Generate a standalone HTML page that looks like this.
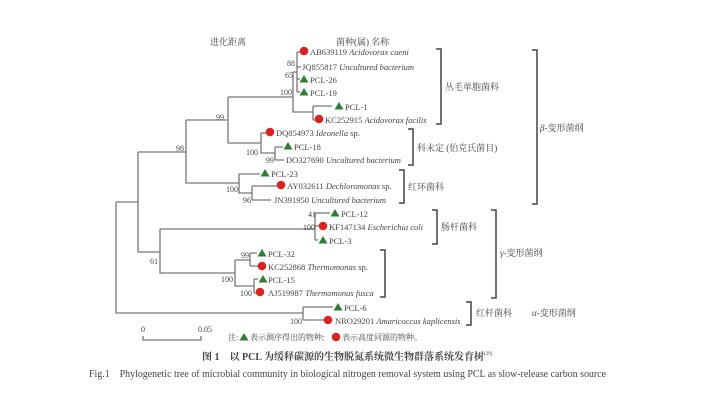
<!DOCTYPE html>
<html><head><meta charset="utf-8"><style>
html,body{margin:0;padding:0;background:#fff;}
svg{display:block;}
text{font-family:"Liberation Serif","Noto Serif CJK SC",serif;fill:#444;}
</style></head><body>
<svg width="710" height="410" viewBox="0 0 710 410" xmlns="http://www.w3.org/2000/svg">
<defs>
<g id="tri"><polygon points="0,-4 4.5,3.5 -4.5,3.5" fill="#2e7d32"/></g>
<g id="dot"><circle r="4.3" fill="#e02020"/></g>
</defs>
<g stroke="#777" stroke-width="1.3" fill="none">
<path d="M116 202 V313 H303"/>
<path d="M116 202 H138 V252 H160"/>
<path d="M138 152 H186"/>
<path d="M138 152 V202"/>
<path d="M186 120 V183 H239"/>
<path d="M186 120 H228"/>
<path d="M228 97 V143 H261"/>
<path d="M228 97 H293"/>
<path d="M293 72 V112 H313"/>
<path d="M293 72 H297 M297 52 V92 M297 52 H300 M297 67 H301 M297 79 H300 M297 92 H300"/>
<path d="M313 106 V120 M313 106 H332 M313 120 H316"/>
<path d="M261 133 V153 H275 M261 133 H266"/>
<path d="M275 147 V160 M275 147 H283 M275 160 H284"/>
<path d="M239 174 V193 H252 M239 174 H260"/>
<path d="M252 186 V200 M252 186 H277 M252 200 H271"/>
<path d="M160 229 V273 H235"/>
<path d="M160 229 H315 V240 M315 213 V229 M315 213 H330 M315 226 H319 M315 240 H318"/>
<path d="M235 260 V286 H254 M235 260 H250"/>
<path d="M250 253 V266 M250 253 H257 M250 266 H258"/>
<path d="M254 279 V293 M254 279 H258 M254 293 H256"/>
<path d="M303 307 V320 M303 307 H333 M303 320 H324"/>
<path d="M143 336 V340 H201 V336"/>
</g>
<g stroke="#444" stroke-width="1.5" fill="none">
<path d="M436 49 H441 V124 H436"/>
<path d="M408 129 H413 V165 H408"/>
<path d="M399 170 H404 V203 H399"/>
<path d="M532 50 H537 V204 H532"/>
<path d="M432 210 H437 V244 H432"/>
<path d="M491 210 H496 V298 H491"/>
<path d="M380 250 H385 V297 H380"/>
<path d="M466 302 H471 V325 H466"/>
</g>
<use href="#dot" x="304" y="51"/>
<use href="#tri" x="304" y="79"/>
<use href="#tri" x="304" y="92"/>
<use href="#tri" x="339" y="106"/>
<use href="#dot" x="319" y="119"/>
<use href="#dot" x="270" y="132"/>
<use href="#tri" x="288" y="146"/>
<use href="#tri" x="265" y="173"/>
<use href="#dot" x="281" y="185"/>
<use href="#tri" x="335" y="213"/>
<use href="#dot" x="323" y="226"/>
<use href="#tri" x="323" y="240"/>
<use href="#tri" x="262" y="253"/>
<use href="#dot" x="262" y="266"/>
<use href="#tri" x="263" y="279"/>
<use href="#dot" x="260" y="292"/>
<use href="#tri" x="338" y="307"/>
<use href="#dot" x="328" y="320"/>
<use href="#tri" x="244" y="337"/>
<use href="#dot" x="336" y="337"/>
<g font-size="8.5">
<text x="310" y="55">AB639119 <tspan font-style="italic">Acidovorax caeni</tspan></text>
<text x="302" y="70">JQ855817 <tspan font-style="italic">Uncultured bacterium</tspan></text>
<text x="310" y="83">PCL-26</text>
<text x="310" y="96">PCL-19</text>
<text x="345" y="110">PCL-1</text>
<text x="325" y="123">KC252915 <tspan font-style="italic">Acidovorax facilis</tspan></text>
<text x="276" y="136">DQ854973 <tspan font-style="italic">Ideonella</tspan> sp.</text>
<text x="294" y="150">PCL-18</text>
<text x="286" y="163">DO327690 <tspan font-style="italic">Uncultured bacterium</tspan></text>
<text x="271" y="177">PCL-23</text>
<text x="287" y="189">AY032611 <tspan font-style="italic">Dechloromonas</tspan> sp.</text>
<text x="274" y="203">JN391950 <tspan font-style="italic">Uncultured bacterium</tspan></text>
<text x="341" y="217">PCL-12</text>
<text x="329" y="230">KF147134 <tspan font-style="italic">Escherichia coli</tspan></text>
<text x="329" y="244">PCL-3</text>
<text x="268" y="257">PCL-32</text>
<text x="268" y="270">KC252868 <tspan font-style="italic">Thermomonas</tspan> sp.</text>
<text x="268" y="283">PCL-15</text>
<text x="268" y="296">AJ519987 <tspan font-style="italic">Thermomonas fusca</tspan></text>
<text x="344" y="311">PCL-6</text>
<text x="335" y="324">NRO29201 <tspan font-style="italic">Amaricoccus kaplicensis</tspan></text>
</g>
<g font-size="8" fill="#555">
<text x="287" y="66">88</text>
<text x="285" y="78">65</text>
<text x="280" y="95">100</text>
<text x="216" y="120">99</text>
<text x="176" y="151">98</text>
<text x="246" y="155">100</text>
<text x="266" y="163">99</text>
<text x="226" y="192">100</text>
<text x="243" y="203">96</text>
<text x="308" y="217">41</text>
<text x="303" y="230">100</text>
<text x="150" y="264">61</text>
<text x="241" y="258">99</text>
<text x="221" y="282">100</text>
<text x="240" y="296">100</text>
<text x="290" y="324">100</text>
<text x="141" y="332">0</text>
<text x="198" y="332">0.05</text>
</g>
<g font-size="9" fill="#555">
<text x="210" y="45">进化距离</text>
<text x="336" y="45">菌种(属) 名称</text>
<text x="445" y="90">丛毛单胞菌科</text>
<text x="417" y="151">科未定 (伯克氏菌目)</text>
<text x="408" y="190">红环菌科</text>
<text x="540" y="131"><tspan font-style="italic">β</tspan>-变形菌纲</text>
<text x="441" y="230">肠杆菌科</text>
<text x="500" y="256"><tspan font-style="italic">γ</tspan>-变形菌纲</text>
<text x="476" y="316">红杆菌科</text>
<text x="532" y="316"><tspan font-style="italic">α</tspan>-变形菌纲</text>
</g>
<g font-size="8" fill="#555">
<text x="228" y="340">注:</text>
<text x="250" y="340">表示测序得出的物种;</text>
<text x="342" y="340">表示高度同源的物种。</text>
</g>
<text x="202" y="360" font-size="10" font-weight="bold" fill="#222" textLength="282" lengthAdjust="spacingAndGlyphs">图 1　以 PCL 为缓释碳源的生物脱氮系统微生物群落系统发育树</text>
<text x="484" y="355" font-size="5" fill="#55c">[29]</text>
<text x="89" y="377" font-size="10" fill="#222" textLength="517" lengthAdjust="spacingAndGlyphs">Fig.1　Phylogenetic tree of microbial community in biological nitrogen removal system using PCL as slow-release carbon source</text>
</svg>
</body></html>
